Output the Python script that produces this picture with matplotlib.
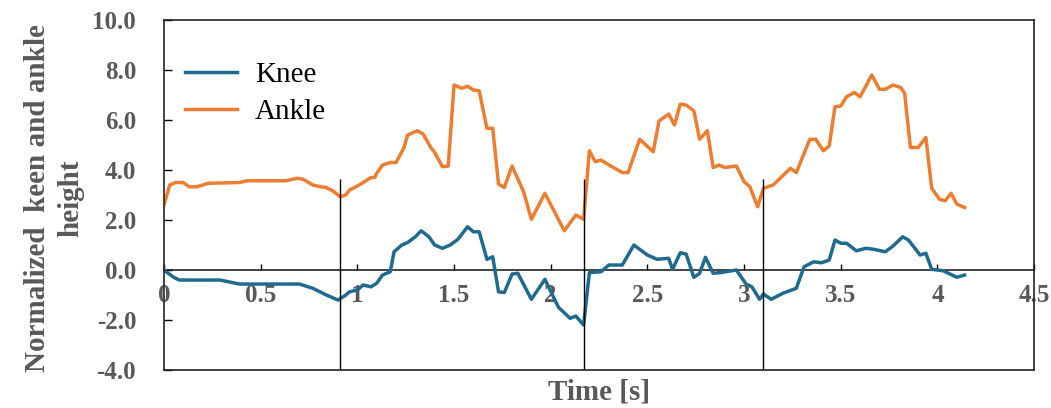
import matplotlib.pyplot as plt

# 膝关节 / 踝关节 归一化高度
knee_t = [0.0, 0.05, 0.08, 0.29, 0.39, 0.70, 0.77, 0.84, 0.90, 0.94, 0.96, 1.00,
          1.03, 1.07, 1.10, 1.13, 1.17, 1.19, 1.23, 1.26, 1.30, 1.33, 1.37, 1.40,
          1.44, 1.48, 1.52, 1.57, 1.60, 1.63, 1.67, 1.70, 1.73, 1.76, 1.80, 1.83,
          1.90, 1.97, 2.04, 2.10, 2.13, 2.17, 2.20, 2.26, 2.30, 2.37, 2.43, 2.50,
          2.55, 2.61, 2.63, 2.67, 2.70, 2.74, 2.77, 2.80, 2.84, 2.88, 2.96, 3.01,
          3.04, 3.08, 3.10, 3.14, 3.20, 3.27, 3.31, 3.36, 3.40, 3.44, 3.47, 3.50,
          3.53, 3.58, 3.63, 3.67, 3.73, 3.77, 3.82, 3.85, 3.91, 3.94, 3.97, 4.03,
          4.10, 4.14]
knee_y = [0.0, -0.29, -0.4, -0.4, -0.56, -0.56, -0.73, -1.0, -1.2, -1.0, -0.87, -0.8,
          -0.6, -0.67, -0.53, -0.2, -0.07, 0.73, 1.0, 1.1, 1.33, 1.57, 1.33, 1.0,
          0.87, 1.0, 1.23, 1.73, 1.53, 1.53, 0.43, 0.53, -0.87, -0.9, -0.16, -0.13,
          -1.17, -0.37, -1.49, -1.93, -1.84, -2.2, -0.1, -0.07, 0.2, 0.2, 1.0, 0.6,
          0.43, 0.47, 0.03, 0.69, 0.64, -0.29, -0.13, 0.51, -0.13, -0.1, 0.0, -0.56,
          -0.67, -1.17, -0.96, -1.17, -0.93, -0.73, 0.13, 0.33, 0.29, 0.4, 1.2, 1.07,
          1.07, 0.77, 0.87, 0.83, 0.73, 0.96, 1.33, 1.2, 0.6, 0.67, 0.03, -0.03,
          -0.29, -0.2]

ankle_t = [0.0, 0.03, 0.06, 0.10, 0.13, 0.17, 0.23, 0.39, 0.43, 0.63, 0.69, 0.72,
           0.77, 0.81, 0.84, 0.88, 0.91, 0.94, 0.96, 1.00, 1.03, 1.07, 1.09, 1.10,
           1.13, 1.17, 1.20, 1.24, 1.26, 1.31, 1.34, 1.38, 1.40, 1.44, 1.47, 1.50,
           1.54, 1.57, 1.60, 1.63, 1.67, 1.70, 1.73, 1.76, 1.80, 1.86, 1.90, 1.97,
           2.07, 2.13, 2.17, 2.20, 2.23, 2.26, 2.31, 2.37, 2.40, 2.46, 2.53, 2.56,
           2.61, 2.64, 2.67, 2.70, 2.74, 2.77, 2.81, 2.84, 2.87, 2.90, 2.96, 3.00,
           3.03, 3.07, 3.10, 3.15, 3.24, 3.27, 3.34, 3.37, 3.41, 3.44, 3.47, 3.50,
           3.53, 3.57, 3.60, 3.66, 3.70, 3.73, 3.77, 3.81, 3.83, 3.86, 3.90, 3.94,
           3.97, 4.01, 4.04, 4.07, 4.10, 4.14]
ankle_y = [2.6, 3.4, 3.5, 3.5, 3.33, 3.33, 3.47, 3.5, 3.57, 3.57, 3.67, 3.63,
           3.4, 3.33, 3.3, 3.13, 2.93, 3.0, 3.2, 3.36, 3.5, 3.7, 3.7, 3.87,
           4.2, 4.3, 4.3, 4.87, 5.4, 5.57, 5.44, 4.9, 4.7, 4.13, 4.16, 7.4,
           7.27, 7.35, 7.2, 7.17, 5.67, 5.67, 3.44, 3.3, 4.16, 3.13, 2.03, 3.07,
           1.57, 2.2, 2.03, 4.77, 4.33, 4.4, 4.16, 3.9, 3.9, 5.23, 4.73, 5.96,
           6.24, 5.8, 6.64, 6.6, 6.37, 5.23, 5.57, 4.1, 4.2, 4.1, 4.16, 3.53,
           3.33, 2.53, 3.27, 3.4, 4.07, 3.9, 5.23, 5.23, 4.77, 4.96, 6.53, 6.56,
           6.93, 7.1, 6.93, 7.8, 7.23, 7.23, 7.4, 7.3, 7.07, 4.9, 4.9, 5.3,
           3.27, 2.83, 2.77, 3.07, 2.64, 2.5]

# 步态分界线
events = [0.91, 2.17, 3.10]
event_top = 3.65

x_ticks = [0, 0.5, 1, 1.5, 2, 2.5, 3, 3.5, 4, 4.5]
x_labels = ['0', '0.5', '1', '1.5', '2', '2.5', '3', '3.5', '4', '4.5']
y_ticks = [-4, -2, 0, 2, 4, 6, 8, 10]

plt.rcParams['font.family'] = ['Liberation Serif', 'DejaVu Serif']
grey = '#595959'

fig = plt.figure(figsize=(10.51, 4.08), dpi=100)
ax = fig.add_axes([0.156, 0.093, 0.828, 0.858])

ax.plot(knee_t, knee_y, color='#1f6b8f', lw=2.5, label='Knee')
ax.plot(ankle_t, ankle_y, color='#ed7d31', lw=2.5, label='Ankle')
ax.vlines(events, -4, event_top, colors='black', lw=1.0)

ax.set_xlim(0, 4.5)
ax.set_ylim(-4, 10)
ax.set_yticks(y_ticks)
ax.set_yticklabels(['%.1f' % v for v in y_ticks])
ax.tick_params(axis='y', direction='in', length=6, width=1, pad=20,
               labelsize=18, labelcolor=grey)
for lab in ax.get_yticklabels():
    lab.set_fontweight('bold')
ax.tick_params(axis='x', bottom=False, labelbottom=False)
for s in ax.spines.values():
    s.set_linewidth(1.2)
    s.set_color('#222222')

# 零线上的横轴
sec = ax.secondary_xaxis(0, transform=ax.transData)
sec.set_xticks(x_ticks)
sec.set_xticklabels(x_labels)
sec.tick_params(direction='in', length=4, width=1, pad=10, labelsize=18,
                labelcolor=grey)
for lab in sec.get_xticklabels():
    lab.set_fontweight('bold')
sec.spines['bottom'].set_linewidth(1.2)
sec.spines['bottom'].set_color('#222222')

ax.set_xlabel('Time [s]', fontsize=21, fontweight='bold', color=grey, labelpad=6)
ax.set_ylabel('Normalized  keen and ankle\nheight', fontsize=21, fontweight='bold',
              color=grey, linespacing=1.3)
ax.yaxis.set_label_coords(-0.092, 0.49)

ax.legend(loc='upper left', bbox_to_anchor=(-0.006, 0.955), frameon=False, fontsize=21,
          handlelength=1.8, handletextpad=0.6, labelspacing=0.35)

plt.savefig('out.png', dpi=100)
